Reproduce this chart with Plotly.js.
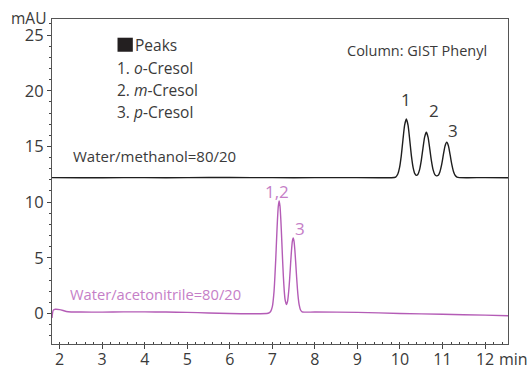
<!DOCTYPE html>
<html>
<head>
<meta charset="utf-8">
<script src="https://cdn.plot.ly/plotly-3.0.1.min.js"></script>
<style>html,body{margin:0;padding:0;background:#fff;}#chart{width:531px;height:367px;}</style>
</head>
<body>
<div id="chart"></div>
<script>
// Retention time (min) and absorbance (mAU)
const methanolTime = [1.82, 2.5, 3.5, 4.5, 5.5, 6.5, 7.5, 8.5, 9.5, 9.8, 9.9, 9.95, 9.99, 10.03, 10.07, 10.11, 10.15, 10.19, 10.23, 10.27, 10.31, 10.35, 10.385, 10.42, 10.46, 10.50, 10.54, 10.58, 10.62, 10.66, 10.70, 10.74, 10.78, 10.82, 10.86, 10.90, 10.94, 10.98, 11.02, 11.06, 11.10, 11.14, 11.18, 11.22, 11.26, 11.30, 11.34, 11.40, 11.60, 12.0, 12.54];
const methanolSignal = [12.20, 12.18, 12.20, 12.19, 12.21, 12.20, 12.19, 12.20, 12.19, 12.19, 12.25, 12.52, 13.09, 14.13, 15.57, 16.91, 17.46, 16.91, 15.57, 14.13, 13.10, 12.55, 12.40, 12.48, 12.89, 13.70, 14.81, 15.84, 16.27, 15.84, 14.81, 13.70, 12.89, 12.47, 12.36, 12.41, 12.73, 13.36, 14.23, 15.04, 15.37, 15.04, 14.23, 13.36, 12.73, 12.39, 12.25, 12.20, 12.19, 12.20, 12.19];

const acetonitrileTime = [1.82, 1.85, 1.90, 2.0, 2.2, 2.5, 3.0, 3.5, 4.0, 4.5, 5.0, 5.5, 6.0, 6.5, 6.9, 6.96, 7.00, 7.04, 7.08, 7.10, 7.12, 7.14, 7.16, 7.18, 7.20, 7.22, 7.24, 7.26, 7.28, 7.30, 7.33, 7.36, 7.39, 7.41, 7.43, 7.45, 7.47, 7.49, 7.51, 7.53, 7.55, 7.57, 7.59, 7.61, 7.63, 7.66, 7.70, 7.76, 8.0, 9.0, 10.0, 11.0, 12.0, 12.54];
const acetonitrileSignal = [-0.40, 0.30, 0.38, 0.35, 0.15, 0.13, 0.12, 0.14, 0.14, 0.13, 0.10, 0.05, 0.00, -0.02, 0.02, 0.18, 0.61, 1.99, 4.88, 6.70, 8.40, 9.63, 10.10, 9.63, 8.40, 6.70, 4.89, 3.27, 2.03, 1.24, 0.80, 1.14, 2.23, 3.30, 4.52, 5.65, 6.48, 6.78, 6.48, 5.65, 4.52, 3.30, 2.20, 1.36, 0.79, 0.34, 0.14, 0.12, 0.13, 0.10, 0.00, -0.07, -0.15, -0.20];

const xTicks = [2, 3, 4, 5, 6, 7, 8, 9, 10, 11, 12];
const yTicks = [0, 5, 10, 15, 20, 25];
const peakLabelsMethanol = ["1", "2", "3"];
const peakLabelsAcetonitrile = ["1,2", "3"];
const legendLines = ["1. <i>o</i>-Cresol", "2. <i>m</i>-Cresol", "3. <i>p</i>-Cresol"];

const black = "#1e1e1e";
const pink = "#b45cb6";
const pinkText = "#c57ec7";
const textCol = "#3a3a3a";
const FONT = "Open Sans, sans-serif";

const traces = [
  {x: methanolTime, y: methanolSignal, type: "scatter", mode: "lines",
   line: {color: black, width: 1.4, shape: "spline", smoothing: 0.6}, hoverinfo: "skip"},
  {x: acetonitrileTime, y: acetonitrileSignal, type: "scatter", mode: "lines",
   line: {color: pink, width: 1.4, shape: "spline", smoothing: 0.6}, hoverinfo: "skip"}
];

function ann(text, x, y, opts) {
  return Object.assign({text: text, x: x, y: y, xref: "x", yref: "y", showarrow: false,
    xanchor: "center", yanchor: "middle",
    font: {family: FONT, size: 16, color: textCol}}, opts || {});
}

const annotations = [
  ann("mAU", -0.052, 1.003, {xref: "paper", yref: "paper", font: {family: FONT, size: 15.5, color: textCol}}),
  ann("min", 1.013, -0.045, {xref: "paper", yref: "paper", font: {family: FONT, size: 16, color: textCol}}),
  ann("Peaks", 3.72, 24.15, {xanchor: "left", font: {family: FONT, size: 15.5, color: textCol}}),
  ann(legendLines[0], 3.31, 22.01, {xanchor: "left", font: {family: FONT, size: 15.5, color: textCol}}),
  ann(legendLines[1], 3.31, 20.06, {xanchor: "left", font: {family: FONT, size: 15.5, color: textCol}}),
  ann(legendLines[2], 3.31, 18.06, {xanchor: "left", font: {family: FONT, size: 15.5, color: textCol}}),
  ann("Column: GIST Phenyl", 10.40, 23.65, {font: {family: FONT, size: 14.5, color: textCol}}),
  ann("Water/methanol=80/20", 2.27, 14.14, {xanchor: "left", font: {family: FONT, size: 15, color: textCol}}),
  ann("Water/acetonitrile=80/20", 2.19, 1.75, {xanchor: "left", font: {family: FONT, size: 14.7, color: pinkText}}),
  ann(peakLabelsMethanol[0], 10.15, 19.17, {font: {family: FONT, size: 17, color: textCol}}),
  ann(peakLabelsMethanol[1], 10.79, 18.27, {font: {family: FONT, size: 17, color: textCol}}),
  ann(peakLabelsMethanol[2], 11.24, 16.47, {font: {family: FONT, size: 17, color: textCol}}),
  ann(peakLabelsAcetonitrile[0], 7.10, 10.93, {font: {family: FONT, size: 17, color: pinkText}}),
  ann(peakLabelsAcetonitrile[1], 7.65, 7.62, {font: {family: FONT, size: 17, color: pinkText}})
];

const layout = {
  width: 531, height: 367,
  margin: {l: 52, r: 22.5, t: 19, b: 23, pad: 0},
  paper_bgcolor: "#ffffff", plot_bgcolor: "#ffffff",
  showlegend: false,
  font: {family: FONT, color: textCol},
  xaxis: {
    range: [1.82, 12.54], tickvals: xTicks, ticktext: xTicks.map(String),
    ticks: "outside", ticklen: 4, tickcolor: "#444", tickwidth: 1,
    ticklabelstandoff: -3,
    minor: {dtick: 0.2, tick0: 2, ticks: "inside", ticklen: 2, tickcolor: "#444", showgrid: false},
    showline: true, linecolor: "#555", linewidth: 1, mirror: true,
    showgrid: false, zeroline: false,
    tickfont: {family: FONT, size: 16, color: textCol}
  },
  yaxis: {
    range: [-2.74, 26.44], tickvals: yTicks, ticktext: yTicks.map(String),
    ticks: "outside", ticklen: 4, tickcolor: "#444", tickwidth: 1,
    minor: {dtick: 1, tick0: 0, ticks: "outside", ticklen: 2, tickcolor: "#444", showgrid: false},
    showline: true, linecolor: "#555", linewidth: 1, mirror: true,
    showgrid: false, zeroline: false,
    tickfont: {family: FONT, size: 16.5, color: textCol}
  },
  shapes: [
    {type: "rect", xref: "x", yref: "y", x0: 3.36, x1: 3.72, y0: 23.50, y1: 24.76,
     fillcolor: "#231f20", line: {width: 0}}
  ],
  annotations: annotations
};

Plotly.newPlot("chart", traces, layout, {staticPlot: true, displayModeBar: false});
</script>
</body>
</html>
